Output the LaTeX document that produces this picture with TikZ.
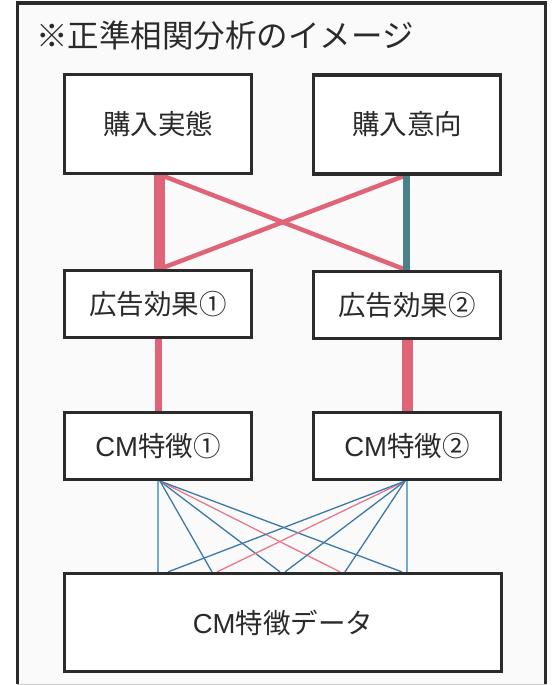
\documentclass[tikz,border=0pt]{standalone}
\usepackage{fontspec}
\setmainfont{Noto Sans CJK JP}
\newfontfamily\latinsans{Liberation Sans}
\definecolor{pinkc}{HTML}{E06478}
\definecolor{tealc}{HTML}{4A8289}
\definecolor{bluec}{HTML}{3C78AA}
\definecolor{lbluec}{HTML}{78A8CE}
\definecolor{lpinkc}{HTML}{E8788C}
\definecolor{framec}{HTML}{2B2B2B}
\definecolor{bgc}{HTML}{FAFAFA}
\definecolor{txtc}{HTML}{2A2A2A}
\pgfdeclarelayer{bglayer}
\pgfdeclarelayer{linelayer}
\pgfsetlayers{bglayer,linelayer,main}
\tikzset{
  boxnode/.style={draw=framec, fill=white, line width=3.2pt, inner sep=0pt,
    minimum width=187pt, text=txtc, font=\fontsize{27.5}{32}\selectfont},
  tallbox/.style={boxnode, minimum height=99pt},
  lowbox/.style={boxnode, minimum height=67pt},
  thickpink/.style={draw=pinkc, line width=11pt},
  midpink/.style={draw=pinkc, line width=6.5pt},
  crosspink/.style={draw=pinkc, line width=4.5pt},
  tealline/.style={draw=tealc, line width=7pt},
  fanblue/.style={draw=bluec, line width=1.3pt},
  fanlblue/.style={draw=lbluec, line width=1.3pt},
  fanpink/.style={draw=lpinkc, line width=1.3pt}
}
\begin{document}
\begin{tikzpicture}[x=1pt,y=-1pt]
\useasboundingbox (0,0) rectangle (552,685);
\begin{pgfonlayer}{bglayer}
  \fill[white] (0,0) rectangle (552,685);
  \fill[bgc] (17,3) rectangle (545,684);
  \draw[black!20, line width=1pt] (17,684) -- (546,684);
  \draw[framec, line width=3.2pt] (17.5,684) -- (17.5,3) -- (545.5,3) -- (545.5,684);
\end{pgfonlayer}

\node[anchor=west, text=txtc, font=\fontsize{31.5}{36}\selectfont, inner sep=0pt] (title) at (36,36) {※正準相関分析のイメージ};

\node[tallbox] (A) at (158,124) {購入実態};
\node[tallbox] (B) at (407,124.5) {購入意向};
\node[lowbox] (C) at (158,304) {広告効果①};
\node[lowbox] (D) at (407,305) {広告効果②};
\node[lowbox] (E) at (158,446) {{\latinsans CM}特徴①};
\node[lowbox] (F) at (407,446) {{\latinsans CM}特徴②};
\node[boxnode, minimum width=437pt, minimum height=98pt] (G) at (283,622.5) {{\latinsans CM}特徴データ};

\begin{pgfonlayer}{linelayer}
  % top level
  \draw[crosspink] ([xshift=3pt]A.south) -- ([xshift=-1pt]D.north);
  \draw[crosspink] ([xshift=-2pt]B.south) -- ([xshift=2pt]C.north);
  \draw[thickpink] ([xshift=1pt]A.south) -- ([xshift=1pt]C.north);
  \draw[tealline] ([xshift=-0.5pt]B.south) -- ([xshift=-0.5pt]D.north);
  % middle level
  \draw[midpink] ([xshift=0.5pt]C.south) -- ([xshift=0.5pt]E.north);
  \draw[thickpink] (D.south) -- (F.north);
  % fan from CM1
  \draw[fanlblue] (E.south) -- ([xshift=-125pt]G.north);
  \draw[fanblue] ([xshift=2pt]E.south) -- ([xshift=-71pt]G.north);
  \draw[fanblue] ([xshift=2pt]E.south) -- ([xshift=-3pt]G.north);
  \draw[fanpink] ([xshift=2pt]E.south) -- ([xshift=57pt]G.north);
  \draw[fanblue] ([xshift=2pt]E.south) -- ([xshift=119pt]G.north);
  % fan from CM2
  \draw[fanlblue] (F.south) -- ([xshift=124pt]G.north);
  \draw[fanblue] ([xshift=-2pt]F.south) -- ([xshift=62pt]G.north);
  \draw[fanblue] ([xshift=-2pt]F.south) -- ([xshift=2pt]G.north);
  \draw[fanpink] ([xshift=-2pt]F.south) -- ([xshift=-66pt]G.north);
  \draw[fanblue] ([xshift=-2pt]F.south) -- ([xshift=-115pt]G.north);
\end{pgfonlayer}
\end{tikzpicture}
\end{document}
